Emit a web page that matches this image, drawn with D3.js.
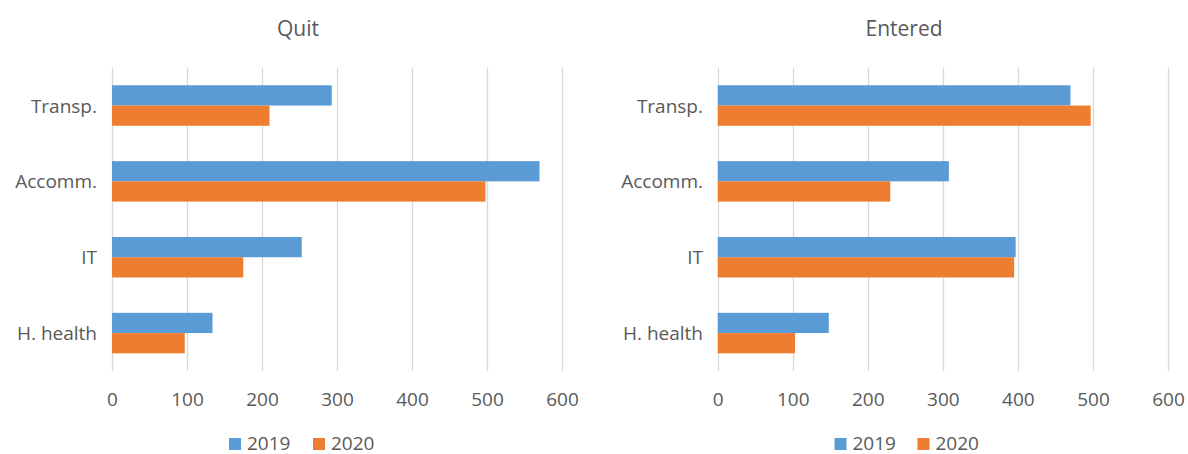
<!DOCTYPE html>
<html>
<head>
<meta charset="utf-8">
<script src="https://cdn.jsdelivr.net/npm/d3@7"></script>
<style>
  html, body { margin: 0; padding: 0; background: #fff; }
  svg { display: block; }
  text { font-family: "Open Sans", "DejaVu Sans", sans-serif; fill: #595959; }
</style>
</head>
<body>
<svg id="chart" width="1188" height="454"></svg>
<script>
// Categories (top to bottom) and series
const categories = ["Transp.", "Accomm.", "IT", "H. health"];
const seriesNames = ["2019", "2020"];
const quit2019 = [293, 570, 253, 134];
const quit2020 = [210, 498, 175, 97];
const entered2019 = [470, 308, 397, 148];
const entered2020 = [497, 230, 395, 103];
const tickValues = [0, 100, 200, 300, 400, 500, 600];

const colors = { "2019": "#5B9BD5", "2020": "#ED7D31" };

const svg = d3.select("#chart");

function drawPanel(opts) {
  const { title, titleX, xRange, labelX, legendX, legendStep, v2019, v2020 } = opts;
  const g = svg.append("g");

  const x = d3.scaleLinear().domain([0, 600]).range(xRange);
  const y0 = d3.scaleBand().domain(categories).range([67.6, 371])
    .paddingInner(0.466).paddingOuter(0.233);
  const y1 = d3.scaleBand().domain(seriesNames).range([0, y0.bandwidth()]);

  // vertical gridlines
  g.append("g").selectAll("line").data(tickValues).join("line")
    .attr("x1", d => Math.round(x(d)) + 0.5).attr("x2", d => Math.round(x(d)) + 0.5)
    .attr("y1", 67.6).attr("y2", 371)
    .attr("stroke", "#D9D9D9").attr("stroke-width", 1.3);

  // bars
  const rows = categories.map((c, i) => ({ c, vals: [
    { s: "2019", v: v2019[i] }, { s: "2020", v: v2020[i] } ] }));
  const grp = g.append("g").selectAll("g").data(rows).join("g")
    .attr("transform", d => `translate(0,${y0(d.c)})`);
  grp.selectAll("rect").data(d => d.vals).join("rect")
    .attr("x", x(0))
    .attr("y", d => y1(d.s))
    .attr("width", d => x(d.v) - x(0))
    .attr("height", y1.bandwidth())
    .attr("fill", d => colors[d.s]);

  // category labels
  g.append("g").selectAll("text").data(categories).join("text")
    .attr("x", labelX)
    .attr("y", d => y0(d) + y0.bandwidth() / 2)
    .attr("text-anchor", "end").attr("dominant-baseline", "central")
    .style("font-size", "19px")
    .text(d => d);

  // x-axis tick labels
  const axis = d3.axisBottom(x).tickValues(tickValues).tickSize(0).tickPadding(0);
  const ax = g.append("g").attr("transform", "translate(0,392)").call(axis);
  ax.select(".domain").remove();
  ax.selectAll("text").style("font-size", "19px").attr("fill", "#595959")
    .attr("font-family", "'Open Sans', sans-serif");

  // title
  g.append("text").attr("x", titleX).attr("y", 28)
    .attr("text-anchor", "middle").attr("dominant-baseline", "central")
    .style("font-size", "21px").text(title);

  // legend
  const lg = g.append("g").attr("transform", `translate(${legendX},443)`);
  const items = lg.selectAll("g").data(seriesNames).join("g")
    .attr("transform", (d, i) => `translate(${i * legendStep},0)`);
  items.append("rect").attr("x", 0).attr("y", -5).attr("width", 12).attr("height", 12)
    .attr("fill", d => colors[d]);
  items.append("text").attr("x", 18).attr("y", 0)
    .attr("dominant-baseline", "central").style("font-size", "19px").text(d => d);
}

drawPanel({ title: "Quit", titleX: 298, xRange: [112, 562], labelX: 97,
  legendX: 229, legendStep: 84, v2019: quit2019, v2020: quit2020 });
drawPanel({ title: "Entered", titleX: 904, xRange: [717.7, 1168], labelX: 703,
  legendX: 834.5, legendStep: 83, v2019: entered2019, v2020: entered2020 });
</script>
</body>
</html>
